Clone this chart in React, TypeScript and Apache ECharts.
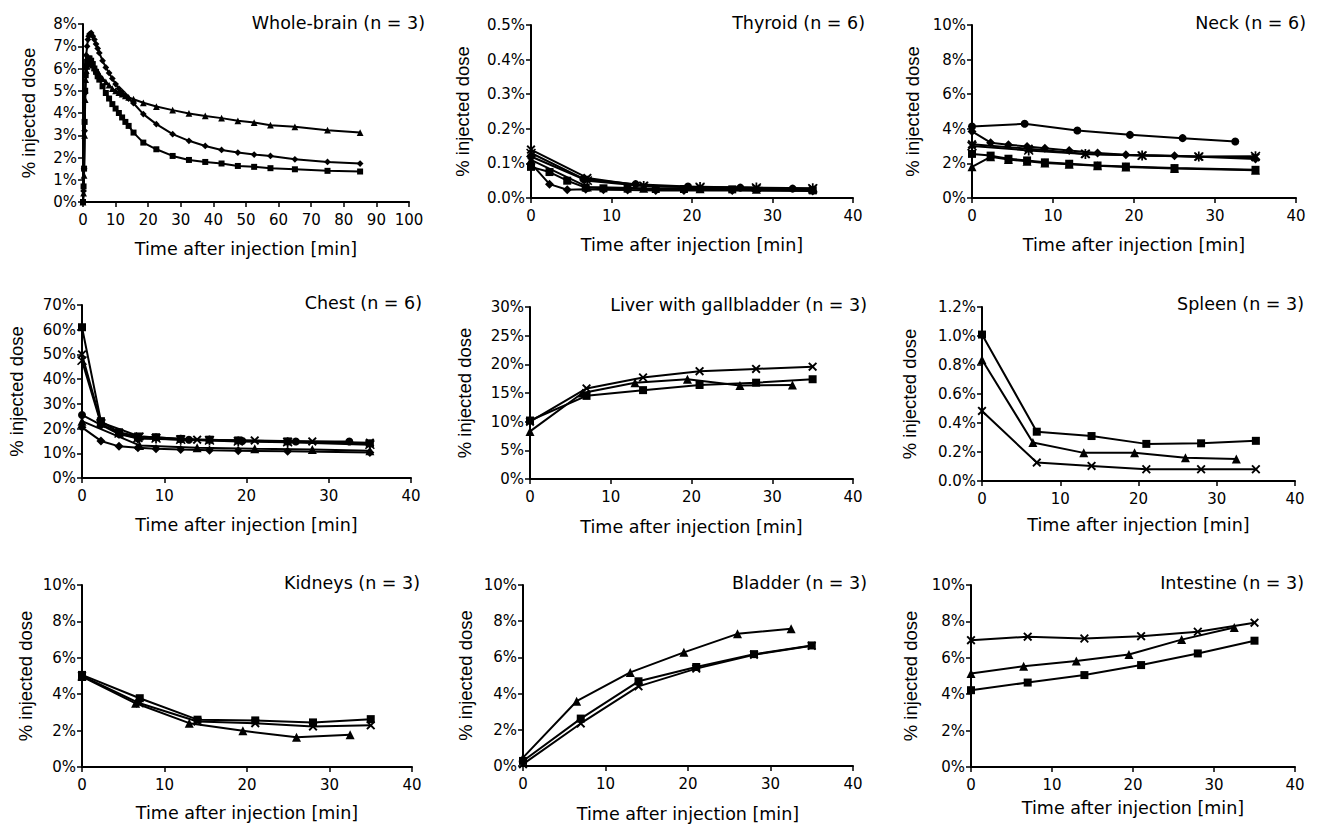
import React, { useEffect, useRef } from 'react';
import * as echarts from 'echarts';

const W = 1318;
const H = 824;
const FONT = '"DejaVu Sans", Verdana, sans-serif';
const FONT_Y = '"Liberation Sans", Arial, sans-serif';

// ---------- time grids (min) ----------
const T_A = [0, 7, 14, 21, 28, 35];
const T_B = [0, 6.5, 13, 19.5, 26, 32.5];
const T_C = [0, 2.3, 4.5, 6.8, 9, 12, 15.5, 19, 25, 35];
const T_BRAIN = [0, 0.17, 0.33, 0.5, 0.67, 0.83, 1, 1.25, 1.5, 1.75, 2, 2.5, 3, 3.5, 4, 4.5, 5, 6, 7, 8, 9, 10, 11, 12, 13, 14, 15.5, 18.5, 22.5, 27.5, 32.5, 37.5, 42.5, 47.5, 52.5, 57.5, 65, 75, 85];
const T_CHEST_X = [0, 2.3, 7, 14, 21, 28, 35];
const T_CHEST_CIRCLE = [0, 2.3, 4.5, 6.8, 13, 19.5, 26, 32.5];

// ---------- values (% injected dose) ----------
const BRAIN_DIAMOND = [0, 0.5, 1.5, 3.2, 4.9, 6.0, 6.6, 7.0, 7.3, 7.45, 7.55, 7.6, 7.45, 7.3, 7.1, 6.9, 6.7, 6.35, 6.05, 5.8, 5.55, 5.3, 5.1, 4.95, 4.8, 4.65, 4.44, 3.95, 3.5, 3.05, 2.75, 2.52, 2.34, 2.22, 2.13, 2.07, 1.92, 1.8, 1.73];
const BRAIN_SQUARE = [0, 0.7, 1.5, 3.6, 5.0, 5.7, 6.1, 6.3, 6.4, 6.45, 6.45, 6.35, 6.2, 6.0, 5.85, 5.65, 5.5, 5.2, 4.9, 4.65, 4.4, 4.2, 4.0, 3.8, 3.6, 3.42, 3.12, 2.67, 2.37, 2.07, 1.89, 1.8, 1.73, 1.62, 1.58, 1.52, 1.47, 1.4, 1.37];
const BRAIN_TRIANGLE = [0, 0.4, 1.2, 3.0, 4.6, 5.5, 5.9, 6.1, 6.2, 6.25, 6.3, 6.25, 6.15, 6.05, 5.95, 5.85, 5.75, 5.55, 5.4, 5.25, 5.1, 5.0, 4.92, 4.85, 4.77, 4.7, 4.62, 4.46, 4.29, 4.13, 3.98, 3.87, 3.77, 3.65, 3.57, 3.45, 3.38, 3.23, 3.12];

const THY_DIAMOND = [0.10, 0.04, 0.024, 0.025, 0.024, 0.023, 0.022, 0.022, 0.022, 0.02];
const THY_SQUARE = [0.09, 0.075, 0.05, 0.03, 0.028, 0.027, 0.026, 0.026, 0.025, 0.022];
const THY_TRIANGLE = [0.11, 0.032, 0.028, 0.027, 0.025, 0.025];
const THY_X = [0.14, 0.058, 0.035, 0.03, 0.028, 0.027];
const THY_STAR = [0.13, 0.05, 0.035, 0.032, 0.03, 0.028];
const THY_CIRCLE = [0.12, 0.055, 0.04, 0.033, 0.03, 0.027];

const NECK_DIAMOND = [3.85, 3.2, 3.08, 2.98, 2.88, 2.75, 2.6, 2.5, 2.44, 2.25];
const NECK_SQUARE = [2.55, 2.45, 2.27, 2.17, 2.06, 1.98, 1.88, 1.82, 1.73, 1.63];
const NECK_TRIANGLE = [1.8, 2.38, 2.22, 2.12, 2.03, 1.95, 1.86, 1.79, 1.7, 1.6];
const NECK_X = [3.1, 2.85, 2.55, 2.45, 2.38, 2.35];
const NECK_STAR = [3.0, 2.75, 2.55, 2.45, 2.4, 2.42];
const NECK_CIRCLE = [4.13, 4.29, 3.9, 3.65, 3.46, 3.27];

const CHEST_SQUARE = [61, 23, 18.5, 16.8, 16.5, 15.8, 15.5, 15.2, 14.8, 14.0];
const CHEST_DIAMOND = [20.5, 15, 12.8, 12.2, 11.8, 11.5, 11.2, 11.0, 10.8, 10.3];
const CHEST_X = [50, 22.5, 16.8, 15.5, 15.2, 14.8, 14.3];
const CHEST_STAR = [47.5, 22, 18, 16.2, 16, 15.5, 15.2, 14.8, 14.5, 13.5];
const CHEST_TRIANGLE = [23, 13.2, 12.2, 11.8, 11.5, 11.0];
const CHEST_CIRCLE = [25.5, 21.5, 17.8, 16.0, 15.5, 15.0, 14.8, 14.8];

const LIVER_X = [10.0, 15.8, 17.7, 18.8, 19.2, 19.6];
const LIVER_TRIANGLE = [8.3, 15.0, 16.8, 17.4, 16.3, 16.4];
const LIVER_SQUARE = [10.2, 14.5, 15.5, 16.4, 16.8, 17.4];

const SPLEEN_SQUARE = [1.01, 0.34, 0.31, 0.256, 0.26, 0.277];
const SPLEEN_TRIANGLE = [0.836, 0.266, 0.194, 0.194, 0.16, 0.152];
const SPLEEN_X = [0.483, 0.127, 0.104, 0.081, 0.081, 0.081];

const KID_SQUARE = [5.06, 3.78, 2.6, 2.56, 2.45, 2.63];
const KID_X = [5.0, 3.5, 2.5, 2.41, 2.23, 2.29];
const KID_TRIANGLE = [4.97, 3.5, 2.41, 1.99, 1.63, 1.77];

const BLA_TRIANGLE = [0.46, 3.58, 5.17, 6.28, 7.3, 7.58];
const BLA_SQUARE = [0.28, 2.62, 4.68, 5.47, 6.18, 6.66];
const BLA_X = [0.1, 2.35, 4.4, 5.38, 6.15, 6.64];

const INT_X = [6.97, 7.16, 7.06, 7.19, 7.43, 7.93];
const INT_TRIANGLE = [5.14, 5.54, 5.82, 6.18, 7.0, 7.67];
const INT_SQUARE = [4.22, 4.64, 5.05, 5.6, 6.24, 6.94];

// ---------- marker shapes ----------
const X_PATH = 'path://M0,1.5L1.5,0L5,3.5L8.5,0L10,1.5L6.5,5L10,8.5L8.5,10L5,6.5L1.5,10L0,8.5L3.5,5Z';
const STAR_PATH = 'path://M4.2,0H5.8V3.2L8.6,0.4L9.6,1.4L6.2,5L9.6,8.6L8.6,9.6L5.8,6.8V10H4.2V6.8L1.4,9.6L0.4,8.6L3.8,5L0.4,1.4L1.4,0.4L4.2,3.2Z';
const SYMBOLS: Record<string, string> = {
  diamond: 'diamond', square: 'rect', triangle: 'triangle', circle: 'circle', x: X_PATH, star: STAR_PATH,
};
const SIZES: Record<string, number> = { diamond: 9, square: 8, triangle: 9, circle: 8, x: 9, star: 10 };

type S = { t: number[]; v: number[]; m: string };
type Panel = {
  title: string; box: number[]; yMax: number; yInt: number; dec: number; xMax: number;
  yGap: number; xGap: number; titleRight: number; titleY: number; series: S[]; scale?: number;
};

const panels: Panel[] = [
  {
    title: 'Whole-brain (n = 3)', box: [83, 24, 409, 202], yMax: 8, yInt: 1, dec: 0, xMax: 100,
    yGap: 45, xGap: 38, titleRight: 425, titleY: 25, scale: 0.75,
    series: [
      { t: T_BRAIN, v: BRAIN_TRIANGLE, m: 'triangle' },
      { t: T_BRAIN, v: BRAIN_DIAMOND, m: 'diamond' },
      { t: T_BRAIN, v: BRAIN_SQUARE, m: 'square' },
    ],
  },
  {
    title: 'Thyroid (n = 6)', box: [531, 25, 853, 198], yMax: 0.5, yInt: 0.1, dec: 1, xMax: 40,
    yGap: 59, xGap: 38, titleRight: 865, titleY: 25,
    series: [
      { t: T_C, v: THY_DIAMOND, m: 'diamond' },
      { t: T_C, v: THY_SQUARE, m: 'square' },
      { t: T_A, v: THY_TRIANGLE, m: 'triangle' },
      { t: T_A, v: THY_X, m: 'x' },
      { t: T_A, v: THY_STAR, m: 'star' },
      { t: T_B, v: THY_CIRCLE, m: 'circle' },
    ],
  },
  {
    title: 'Neck (n = 6)', box: [972, 25, 1296, 198], yMax: 10, yInt: 2, dec: 0, xMax: 40,
    yGap: 50, xGap: 38, titleRight: 1306, titleY: 25,
    series: [
      { t: T_C, v: NECK_DIAMOND, m: 'diamond' },
      { t: T_C, v: NECK_SQUARE, m: 'square' },
      { t: T_C, v: NECK_TRIANGLE, m: 'triangle' },
      { t: T_A, v: NECK_X, m: 'x' },
      { t: T_A, v: NECK_STAR, m: 'star' },
      { t: T_B, v: NECK_CIRCLE, m: 'circle' },
    ],
  },
  {
    title: 'Chest (n = 6)', box: [82, 305, 411, 478], yMax: 70, yInt: 10, dec: 0, xMax: 40,
    yGap: 56, xGap: 38, titleRight: 422, titleY: 305,
    series: [
      { t: T_C, v: CHEST_SQUARE, m: 'square' },
      { t: T_C, v: CHEST_DIAMOND, m: 'diamond' },
      { t: T_CHEST_X, v: CHEST_X, m: 'x' },
      { t: T_C, v: CHEST_STAR, m: 'star' },
      { t: T_A, v: CHEST_TRIANGLE, m: 'triangle' },
      { t: T_CHEST_CIRCLE, v: CHEST_CIRCLE, m: 'circle' },
    ],
  },
  {
    title: 'Liver with gallbladder (n = 3)', box: [530, 307, 853, 479], yMax: 30, yInt: 5, dec: 0, xMax: 40,
    yGap: 56, xGap: 39, titleRight: 867, titleY: 307,
    series: [
      { t: T_A, v: LIVER_X, m: 'x' },
      { t: T_B, v: LIVER_TRIANGLE, m: 'triangle' },
      { t: T_A, v: LIVER_SQUARE, m: 'square' },
    ],
  },
  {
    title: 'Spleen (n = 3)', box: [982, 307, 1295, 481], yMax: 1.2, yInt: 0.2, dec: 1, xMax: 40,
    yGap: 63, xGap: 35, titleRight: 1304, titleY: 306,
    series: [
      { t: T_A, v: SPLEEN_SQUARE, m: 'square' },
      { t: T_B, v: SPLEEN_TRIANGLE, m: 'triangle' },
      { t: T_A, v: SPLEEN_X, m: 'x' },
    ],
  },
  {
    title: 'Kidneys (n = 3)', box: [82, 585, 412, 767], yMax: 10, yInt: 2, dec: 0, xMax: 40,
    yGap: 47, xGap: 37, titleRight: 420, titleY: 585,
    series: [
      { t: T_A, v: KID_SQUARE, m: 'square' },
      { t: T_A, v: KID_X, m: 'x' },
      { t: T_B, v: KID_TRIANGLE, m: 'triangle' },
    ],
  },
  {
    title: 'Bladder (n = 3)', box: [523, 585, 853, 767], yMax: 10, yInt: 2, dec: 0, xMax: 40,
    yGap: 48, xGap: 39, titleRight: 867, titleY: 585,
    series: [
      { t: T_B, v: BLA_TRIANGLE, m: 'triangle' },
      { t: T_A, v: BLA_SQUARE, m: 'square' },
      { t: T_A, v: BLA_X, m: 'x' },
    ],
  },
  {
    title: 'Intestine (n = 3)', box: [971, 585, 1295, 767], yMax: 10, yInt: 2, dec: 0, xMax: 40,
    yGap: 51, xGap: 32, titleRight: 1304, titleY: 585,
    series: [
      { t: T_A, v: INT_X, m: 'x' },
      { t: T_B, v: INT_TRIANGLE, m: 'triangle' },
      { t: T_A, v: INT_SQUARE, m: 'square' },
    ],
  },
];

function buildOption() {
  const axisLine = { show: true, onZero: false, lineStyle: { color: '#000', width: 2 } };
  const axisTick = { show: true, inside: false, length: 5, lineStyle: { color: '#000', width: 1.5 } };
  const series: any[] = [];
  panels.forEach((p, i) => {
    p.series.forEach((s) => {
      const k = p.scale || 1;
      series.push({
        type: 'line',
        xAxisIndex: i,
        yAxisIndex: i,
        data: s.t.map((t, j) => [t, s.v[j]]),
        symbol: SYMBOLS[s.m],
        symbolSize: SIZES[s.m] * k,
        showSymbol: true,
        showAllSymbol: true,
        lineStyle: { color: '#000', width: 2 },
        itemStyle: { color: '#000' },
        emphasis: { disabled: true },
      });
    });
  });
  return {
    animation: false,
    backgroundColor: '#fff',
    textStyle: { fontFamily: FONT },
    title: panels.map((p) => ({
      text: p.title,
      right: W - p.titleRight,
      top: p.titleY - 11,
      padding: 0,
      textStyle: { fontSize: 17.5, fontWeight: 'normal', color: '#000', fontFamily: FONT },
    })),
    grid: panels.map((p) => ({
      left: p.box[0], top: p.box[1], width: p.box[2] - p.box[0], height: p.box[3] - p.box[1],
    })),
    xAxis: panels.map((p, i) => ({
      type: 'value', gridIndex: i, min: 0, max: p.xMax, interval: 10,
      name: 'Time after injection [min]', nameLocation: 'middle', nameGap: p.xGap,
      nameTextStyle: { fontSize: 17.5, color: '#000', fontFamily: FONT },
      axisLine, axisTick,
      axisLabel: { fontSize: 15, color: '#000', margin: 10, fontFamily: FONT },
      splitLine: { show: false },
    })),
    yAxis: panels.map((p, i) => ({
      type: 'value', gridIndex: i, min: 0, max: p.yMax, interval: p.yInt,
      name: '% injected dose', nameLocation: 'middle', nameGap: p.yGap, nameRotate: 90,
      nameTextStyle: { fontSize: 18.5, color: '#000', fontFamily: FONT_Y },
      axisLine, axisTick,
      axisLabel: {
        fontSize: 15, color: '#000', margin: 6, fontFamily: FONT,
        formatter: (v: number) => v.toFixed(p.dec) + '%',
      },
      splitLine: { show: false },
    })),
    series,
  };
}

export default function App() {
  const ref = useRef<HTMLDivElement>(null);
  useEffect(() => {
    if (!ref.current) return;
    const chart = echarts.init(ref.current, undefined, { renderer: 'svg' });
    chart.setOption(buildOption() as any);
    return () => chart.dispose();
  }, []);
  return (
    <div
      ref={ref}
      style={{ position: 'fixed', left: 0, top: 0, width: W, height: H, background: '#fff' }}
    />
  );
}
